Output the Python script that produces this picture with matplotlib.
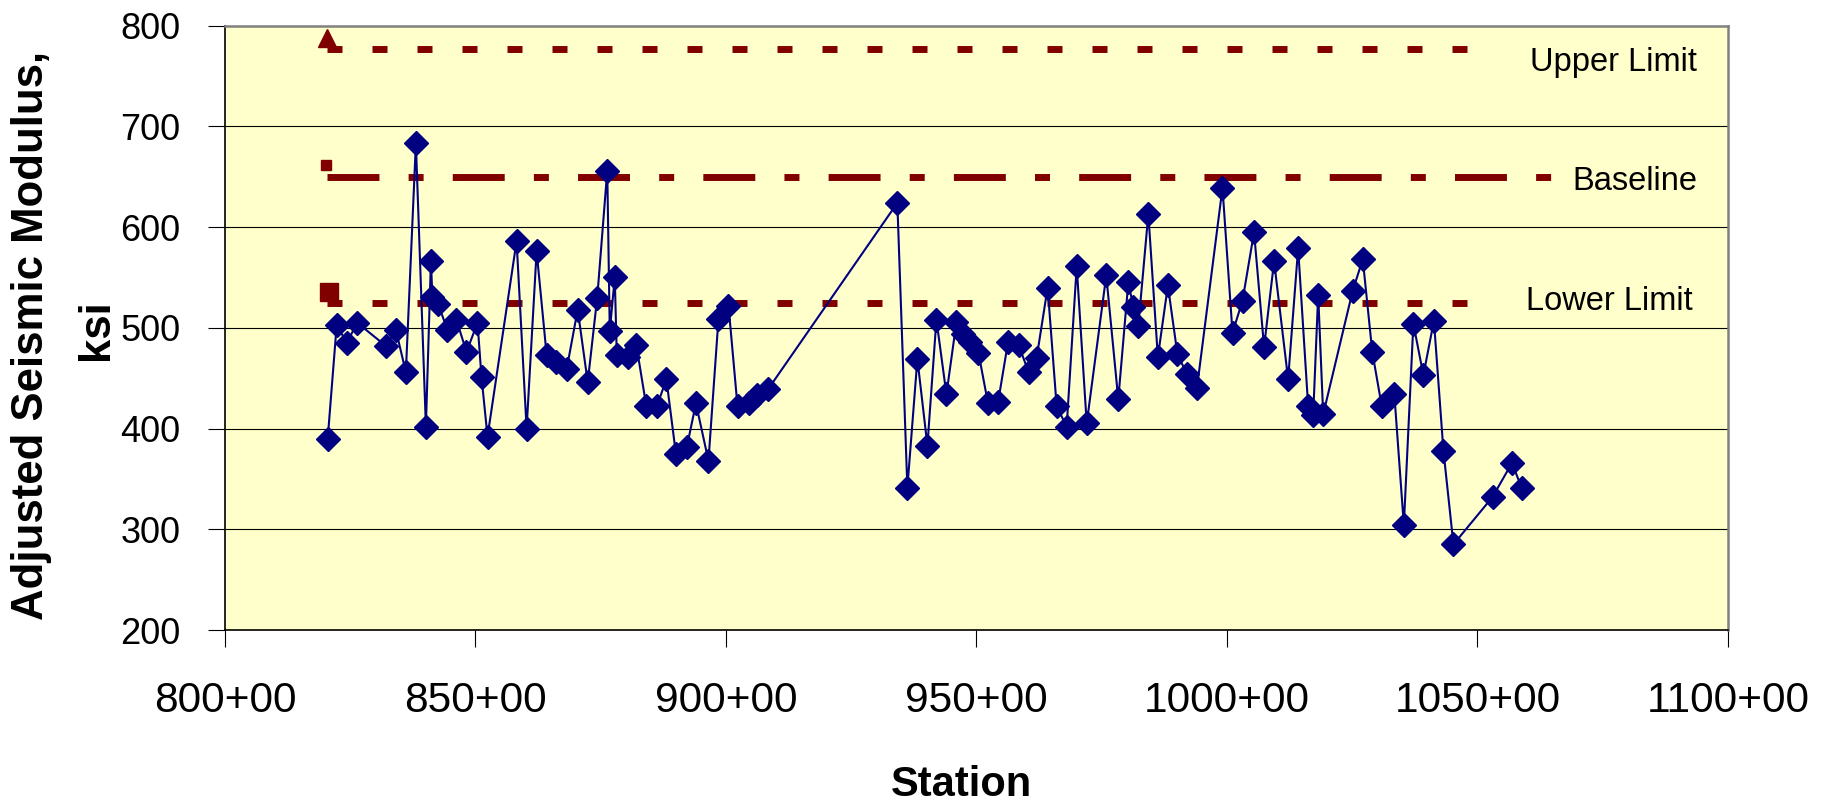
import numpy as np
import matplotlib
matplotlib.use("Agg")
import matplotlib.pyplot as plt
from matplotlib.ticker import FuncFormatter, MultipleLocator

plt.rcParams['font.family'] = ['Liberation Sans', 'DejaVu Sans']
plt.rcParams['lines.scale_dashes'] = False

# station (x100 ft) and adjusted seismic modulus (ksi)
stations = [820.5, 822.3, 824.3, 826.4, 832.1, 834.1, 836.1, 838.1, 840.1, 841.1,
            841.4, 842.5, 844.4, 846.2, 848.2, 850.4, 851.2, 852.4, 858.2, 860.2,
            862.2, 864.2, 866.1, 868.2, 870.4, 872.4, 874.3, 876.3, 876.8, 877.8,
            878.2, 880.5, 882.1, 884.1, 886.2, 888.1, 890.0, 892.2, 894.0, 896.5,
            898.5, 900.5, 902.3, 904.5, 906.1, 908.4, 934.2, 936.2, 938.2, 940.2,
            942.0, 944.0, 946.0, 947.3, 948.7, 950.4, 952.3, 954.3, 956.3, 958.4,
            960.4, 962.0, 964.2, 966.0, 968.0, 970.0, 972.0, 975.9, 978.3, 980.3,
            981.3, 982.3, 984.3, 986.2, 988.2, 990.1, 992.0, 994.0, 999.1, 1001.1,
            1003.1, 1005.4, 1007.4, 1009.4, 1012.2, 1014.2, 1016.2, 1017.2, 1018.2, 1019.2,
            1025.1, 1027.1, 1029.0, 1030.9, 1033.4, 1035.3, 1037.2, 1039.2, 1041.3, 1043.2,
            1045.2, 1053.0, 1056.9, 1058.8]
modulus = [390, 503, 485, 505, 482, 498, 456, 683, 402, 566,
           531, 524, 498, 508, 476, 505, 451, 392, 586, 400,
           576, 473, 466, 459, 518, 446, 530, 656, 497, 550,
           473, 471, 483, 422, 422, 449, 375, 382, 425, 368,
           509, 522, 422, 425, 433, 439, 624, 341, 469, 383,
           508, 434, 506, 494, 486, 475, 425, 426, 486, 483,
           456, 470, 540, 422, 402, 561, 405, 552, 429, 545,
           521, 502, 613, 471, 542, 474, 454, 440, 639, 495,
           527, 595, 481, 566, 449, 579, 422, 413, 533, 414,
           537, 568, 476, 422, 434, 304, 504, 453, 507, 378,
           285, 332, 366, 341]

# reference lines
limit_names = ['Upper Limit', 'Baseline', 'Lower Limit']
limit_values = [777, 650, 525]
limit_start = [820.4, 820.4, 820.4]
limit_end = [1053.1, 1064.9, 1053.1]
# stray markers drawn at the start of each reference series
limit_marker_x = [820.4, 820.1, 820.8]
limit_marker_y = [788, 662, 536]

navy = '#000080'
maroon = '#800000'

fig = plt.figure(figsize=(18.27, 8.06), dpi=100)
ax = fig.add_axes([0.12315, 0.21836, 0.82266, 0.74988])
ax.set_facecolor('#FFFFCC')

ax.set_xlim(800, 1100)
ax.set_ylim(200, 800)

for v in [300, 400, 500, 600, 700]:
    ax.axhline(v, color='black', lw=0.8, zorder=1)

dash_styles = [(0, (10.8, 21.6)),
               (0, (37.4, 21.0, 10.8, 21.0)),
               (0, (10.8, 21.6))]
for i in range(3):
    ax.plot([limit_start[i], limit_end[i]], [limit_values[i], limit_values[i]],
            color=maroon, lw=5, linestyle=dash_styles[i], dash_capstyle='butt', zorder=2)

ax.plot(limit_marker_x[0], limit_marker_y[0], marker='^', ms=13, color=maroon, zorder=3)
ax.plot(limit_marker_x[1], limit_marker_y[1], marker='s', ms=7, color=maroon, zorder=3)
ax.plot(limit_marker_x[2], limit_marker_y[2], marker='s', ms=13, color=maroon, zorder=3)

label_y = [755, 637, 518]
label_x = [1093.8, 1093.8, 1093.0]
for i in range(3):
    ax.text(label_x[i], label_y[i], limit_names[i], ha='right', va='baseline',
            fontsize=23.5, color='black', zorder=4)

ax.plot(stations, modulus, color=navy, lw=1.5, marker='D', ms=12.5,
        mfc=navy, mec=navy, mew=1, zorder=5)

ax.xaxis.set_major_locator(MultipleLocator(50))
ax.yaxis.set_major_locator(MultipleLocator(100))
ax.xaxis.set_major_formatter(FuncFormatter(lambda v, p: '%d+00' % int(v)))
ax.tick_params(axis='x', direction='out', length=12.5, width=0.8, pad=24, labelsize=30.5)
ax.tick_params(axis='y', direction='out', length=12.5, width=0.8, pad=19.5, labelsize=26)

for s in ['left', 'bottom']:
    ax.spines[s].set_color('black')
    ax.spines[s].set_linewidth(1.2)
for s in ['top', 'right']:
    ax.spines[s].set_color('#808080')
    ax.spines[s].set_linewidth(1.8)

fig.text(0.017, 0.584, 'Adjusted Seismic Modulus,', rotation=90, ha='center', va='center',
         fontsize=31.5, fontweight='bold')
fig.text(0.053, 0.591, 'ksi', rotation=90, ha='center', va='center',
         fontsize=31.5, fontweight='bold')
fig.text(0.526, 0.001, 'Station', ha='center', va='bottom', fontsize=30, fontweight='bold')

fig.savefig('out.png', dpi=100)
